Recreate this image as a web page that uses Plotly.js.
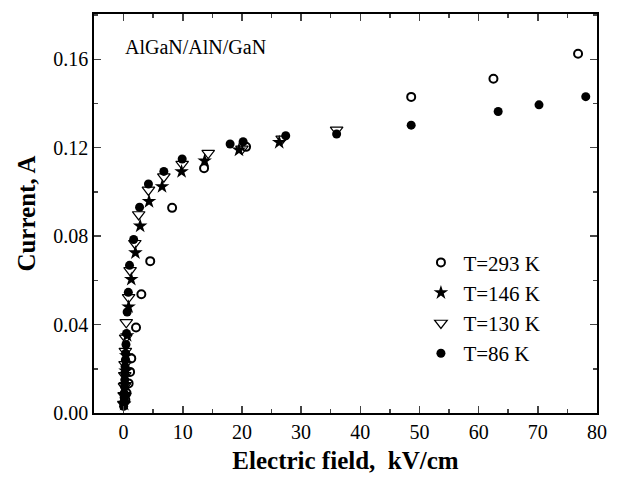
<!DOCTYPE html>
<html>
<head>
<meta charset="utf-8">
<script src="https://cdn.plot.ly/plotly-3.0.1.min.js"></script>
<style>html,body{margin:0;padding:0;background:#fff;}#chart{width:617px;height:479px;}</style>
</head>
<body>
<div id="chart"></div>
<script>
// T = 293 K (open circles)
const T293_x = [0.3, 0.5, 0.85, 1.1, 1.3, 2.1, 3.0, 4.5, 8.2, 13.6, 20.7, 48.6, 62.5, 76.8];
const T293_y = [0.006, 0.009, 0.0134, 0.0186, 0.0247, 0.0387, 0.0537, 0.0687, 0.0928, 0.1107, 0.1204, 0.143, 0.1512, 0.1625];
// T = 146 K (stars)
const T146_x = [0.1, 0.2, 0.3, 0.35, 0.45, 0.6, 0.85, 1.3, 2.0, 2.8, 4.3, 6.5, 9.8, 13.7, 19.5, 26.3];
const T146_y = [0.004, 0.008, 0.013, 0.019, 0.026, 0.035, 0.048, 0.0605, 0.0725, 0.0846, 0.0957, 0.1024, 0.1092, 0.1141, 0.119, 0.1224];
// T = 130 K (open down triangles)
const T130_x = [0.05, 0.1, 0.15, 0.2, 0.25, 0.3, 0.35, 0.45, 0.85, 1.1, 1.9, 2.55, 4.2, 6.8, 9.9, 14.3, 20.0, 26.8, 36.0];
const T130_y = [0.004, 0.008, 0.012, 0.017, 0.022, 0.028, 0.034, 0.041, 0.0523, 0.0645, 0.0768, 0.0898, 0.1009, 0.1069, 0.1126, 0.1176, 0.1195, 0.124, 0.1281];
// T = 86 K (filled circles)
const T86_x = [0.0, 0.05, 0.1, 0.1, 0.15, 0.2, 0.2, 0.25, 0.3, 0.35, 0.4, 0.5, 0.6, 0.8, 1.0, 1.7, 2.7, 4.2, 6.8, 9.9, 18.0, 20.2, 27.4, 36.0, 48.6, 63.3, 70.2, 78.1];
const T86_y = [0.003, 0.005, 0.007, 0.009, 0.012, 0.015, 0.018, 0.021, 0.024, 0.027, 0.031, 0.036, 0.0457, 0.0546, 0.0668, 0.0785, 0.0931, 0.1036, 0.1093, 0.1149, 0.1217, 0.1227, 0.1254, 0.1262, 0.1302, 0.1364, 0.1394, 0.1431];

const seriesNames = ['T=293 K', 'T=146 K', 'T=130 K', 'T=86 K'];
const yTicks = [0, 0.04, 0.08, 0.12, 0.16];
const yTickText = ['0.00', '0.04', '0.08', '0.12', '0.16'];
const xTicks = [0, 10, 20, 30, 40, 50, 60, 70, 80];

const font = 'Liberation Serif, Times New Roman, serif';

const traces = [
  {x: T293_x, y: T293_y, name: seriesNames[0], type: 'scatter', mode: 'markers',
   marker: {symbol: 'circle-open', size: 8, color: '#000', line: {width: 2, color: '#000'}}},
  {x: T146_x, y: T146_y, name: seriesNames[1], type: 'scatter', mode: 'markers',
   marker: {symbol: 'star', size: 11, color: '#000', line: {width: 0}}},
  {x: T130_x, y: T130_y, name: seriesNames[2], type: 'scatter', mode: 'markers',
   marker: {symbol: 'triangle-down-open', size: 11, color: '#000', line: {width: 1.2, color: '#000'}}},
  {x: T86_x, y: T86_y, name: seriesNames[3], type: 'scatter', mode: 'markers',
   marker: {symbol: 'circle', size: 9, color: '#000', line: {width: 0}}}
];

const layout = {
  width: 617, height: 479,
  margin: {l: 94, r: 20, t: 14, b: 66},
  paper_bgcolor: '#fff', plot_bgcolor: '#fff',
  font: {family: font, size: 20, color: '#000'},
  showlegend: true,
  legend: {x: 0.645, y: 0.428, xanchor: 'left', yanchor: 'top', bgcolor: 'rgba(0,0,0,0)',
           itemwidth: 35, font: {family: font, size: 21, color: '#000'}},
  xaxis: {
    range: [-5, 80], tickvals: xTicks, ticks: 'inside', ticklen: 7, tickwidth: 1.5,
    showline: true, linewidth: 1.8, linecolor: '#000', mirror: 'ticks',
    showgrid: false, zeroline: false,
    tickfont: {family: font, size: 20},
    minor: {dtick: 5, tick0: 0, ticks: 'inside', ticklen: 4, tickwidth: 1.5, showgrid: false},
    title: {text: 'Electric field,&nbsp; kV/cm', font: {family: font, size: 25, weight: 'bold'}, standoff: 10}
  },
  yaxis: {
    range: [0, 0.1805], tickvals: yTicks, ticktext: yTickText, ticks: 'inside', ticklen: 7, tickwidth: 1.5,
    showline: true, linewidth: 1.8, linecolor: '#000', mirror: 'ticks',
    showgrid: false, zeroline: false,
    tickfont: {family: font, size: 20},
    minor: {dtick: 0.02, tick0: 0, ticks: 'inside', ticklen: 4, tickwidth: 1.5, showgrid: false},
    title: {text: 'Current, A', font: {family: font, size: 25, weight: 'bold'}, standoff: 10}
  },
  annotations: [
    {text: 'AlGaN/AlN/GaN', xref: 'paper', yref: 'paper', x: 0.058, y: 0.917,
     xanchor: 'left', yanchor: 'middle', showarrow: false, font: {family: font, size: 20, color: '#000'}}
  ]
};

Plotly.newPlot('chart', traces, layout, {displayModeBar: false, staticPlot: true});
</script>
</body>
</html>
